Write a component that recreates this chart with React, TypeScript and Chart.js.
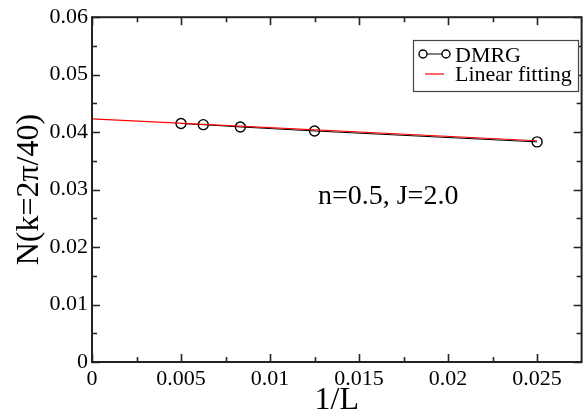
import React, { useEffect, useRef } from 'react';
import { Chart, registerables } from 'chart.js';

Chart.register(...registerables);

// ---- data ----
const invL = [0.005, 0.00625, 0.008333, 0.0125, 0.025];
const dmrg = [0.0415, 0.0413, 0.0409, 0.0402, 0.0383];
const fitX = [0, 0.025];
const fitY = [0.0423, 0.0385];

const xTicks = [0, 0.005, 0.01, 0.015, 0.02, 0.025];
const xTickLabels = ['0', '0.005', '0.01', '0.015', '0.02', '0.025'];
const xMinor = [0.0025, 0.0075, 0.0125, 0.0175, 0.0225];
const yTicks = [0, 0.01, 0.02, 0.03, 0.04, 0.05, 0.06];
const yTickLabels = ['0', '0.01', '0.02', '0.03', '0.04', '0.05', '0.06'];
const yMinor = [0.005, 0.015, 0.025, 0.035, 0.045, 0.055];

const seriesLabels = ['DMRG', 'Linear fitting'];
const annotationText = 'n=0.5, J=2.0';
const annotationPos = { x: 0.02058, y: 0.0275 };

const FONT = "'Liberation Serif', 'Times New Roman', serif";

const framePlugin = {
  id: 'frameTicks',
  afterDraw(chart: any) {
    const { ctx, chartArea } = chart;
    const { left, right, top, bottom } = chartArea;
    const xs = chart.scales.x;
    const ys = chart.scales.y;
    ctx.save();
    ctx.strokeStyle = '#222';
    ctx.lineWidth = 1.6;
    const major = 8;
    const minor = 5;
    ctx.beginPath();
    xTicks.forEach((v) => {
      const p = Math.round(xs.getPixelForValue(v)) + 0.5;
      ctx.moveTo(p, bottom); ctx.lineTo(p, bottom - major);
      ctx.moveTo(p, top); ctx.lineTo(p, top + major);
    });
    xMinor.forEach((v) => {
      const p = Math.round(xs.getPixelForValue(v)) + 0.5;
      ctx.moveTo(p, bottom); ctx.lineTo(p, bottom - minor);
      ctx.moveTo(p, top); ctx.lineTo(p, top + minor);
    });
    yTicks.forEach((v) => {
      const p = Math.round(ys.getPixelForValue(v)) + 0.5;
      ctx.moveTo(left, p); ctx.lineTo(left + major, p);
      ctx.moveTo(right, p); ctx.lineTo(right - major, p);
    });
    yMinor.forEach((v) => {
      const p = Math.round(ys.getPixelForValue(v)) + 0.5;
      ctx.moveTo(left, p); ctx.lineTo(left + minor, p);
      ctx.moveTo(right, p); ctx.lineTo(right - minor, p);
    });
    ctx.stroke();
    ctx.lineWidth = 2;
    ctx.strokeRect(left, top, right - left, bottom - top);

    // annotation
    ctx.fillStyle = '#000';
    ctx.font = `28px ${FONT}`;
    ctx.textAlign = 'right';
    ctx.textBaseline = 'alphabetic';
    ctx.fillText(annotationText, xs.getPixelForValue(annotationPos.x), ys.getPixelForValue(annotationPos.y));

    // legend box
    const bx = 413, by = 40, bw = 165, bh = 51;
    ctx.fillStyle = '#fff';
    ctx.fillRect(bx, by, bw, bh);
    ctx.strokeStyle = '#444';
    ctx.lineWidth = 1.2;
    ctx.strokeRect(bx + 0.5, by + 0.5, bw, bh);
    const d0 = chart.data.datasets[0];
    const d1 = chart.data.datasets[1];
    // DMRG symbol
    const y0 = 54;
    ctx.strokeStyle = d0.borderColor;
    ctx.lineWidth = 1;
    ctx.beginPath();
    ctx.moveTo(423, y0); ctx.lineTo(447, y0);
    ctx.stroke();
    ctx.lineWidth = 1.4;
    [423, 446].forEach((cx) => {
      ctx.beginPath();
      ctx.arc(cx, y0, 4, 0, Math.PI * 2);
      ctx.fillStyle = '#fff';
      ctx.fill();
      ctx.stroke();
    });
    // fit symbol
    const y1 = 74;
    ctx.strokeStyle = d1.borderColor;
    ctx.lineWidth = 1.2;
    ctx.beginPath();
    ctx.moveTo(425, y1); ctx.lineTo(444, y1);
    ctx.stroke();
    ctx.fillStyle = '#000';
    ctx.font = `22px ${FONT}`;
    ctx.textAlign = 'left';
    ctx.fillText(d0.label, 455, 62);
    ctx.fillText(d1.label, 455, 81);
    ctx.restore();
  },
};

export default function App() {
  const ref = useRef<HTMLCanvasElement | null>(null);
  useEffect(() => {
    if (!ref.current) return;
    const chart = new Chart(ref.current, {
      type: 'scatter',
      data: {
        datasets: [
          {
            label: seriesLabels[0],
            data: invL.map((x, i) => ({ x, y: dmrg[i] })),
            showLine: true,
            borderColor: '#000',
            borderWidth: 1,
            pointRadius: 5,
            pointBorderWidth: 1.4,
            pointBackgroundColor: 'rgba(0,0,0,0)',
            pointBorderColor: '#000',
            order: 2,
          },
          {
            label: seriesLabels[1],
            data: fitX.map((x, i) => ({ x, y: fitY[i] })),
            showLine: true,
            borderColor: '#ff0000',
            borderWidth: 1.2,
            pointRadius: 0,
            order: 1,
          },
        ],
      },
      options: {
        animation: false,
        responsive: false,
        layout: { padding: { top: 15, right: 1, left: 0, bottom: 0 } },
        plugins: { legend: { display: false }, tooltip: { enabled: false } },
        scales: {
          x: {
            type: 'linear',
            min: 0,
            max: 0.0275,
            afterBuildTicks: (s: any) => { s.ticks = xTicks.map((v) => ({ value: v })); },
            afterFit: (s: any) => { s.height = 51; },
            ticks: {
              callback: (_v: any, i: number) => xTickLabels[i],
              font: { family: FONT, size: 22 },
              color: '#000',
              padding: 4,
              maxRotation: 0,
              autoSkip: false,
            },
            grid: { display: false, drawTicks: false },
            border: { display: false },
            title: {
              display: true,
              text: '1/L',
              color: '#000',
              font: { family: FONT, size: 32, lineHeight: 0.75 },
              padding: 0,
            },
          },
          y: {
            type: 'linear',
            min: 0,
            max: 0.06,
            afterBuildTicks: (s: any) => { s.ticks = yTicks.map((v) => ({ value: v })); },
            afterFit: (s: any) => { s.width = 92; },
            ticks: {
              callback: (_v: any, i: number) => yTickLabels[i],
              font: { family: FONT, size: 22 },
              color: '#000',
              padding: 4,
              autoSkip: false,
            },
            grid: { display: false, drawTicks: false },
            border: { display: false },
            title: {
              display: true,
              text: 'N(k=2π/40)',
              color: '#000',
              font: { family: FONT, size: 32 },
              padding: { top: 10, bottom: 0 },
            },
          },
        },
      },
      plugins: [framePlugin],
    });
    return () => chart.destroy();
  }, []);
  return (
    <div style={{ position: 'absolute', left: 0, top: 0, width: 588, height: 413, background: '#fff' }}>
      <canvas ref={ref} width={588} height={413} style={{ display: 'block' }} />
    </div>
  );
}
